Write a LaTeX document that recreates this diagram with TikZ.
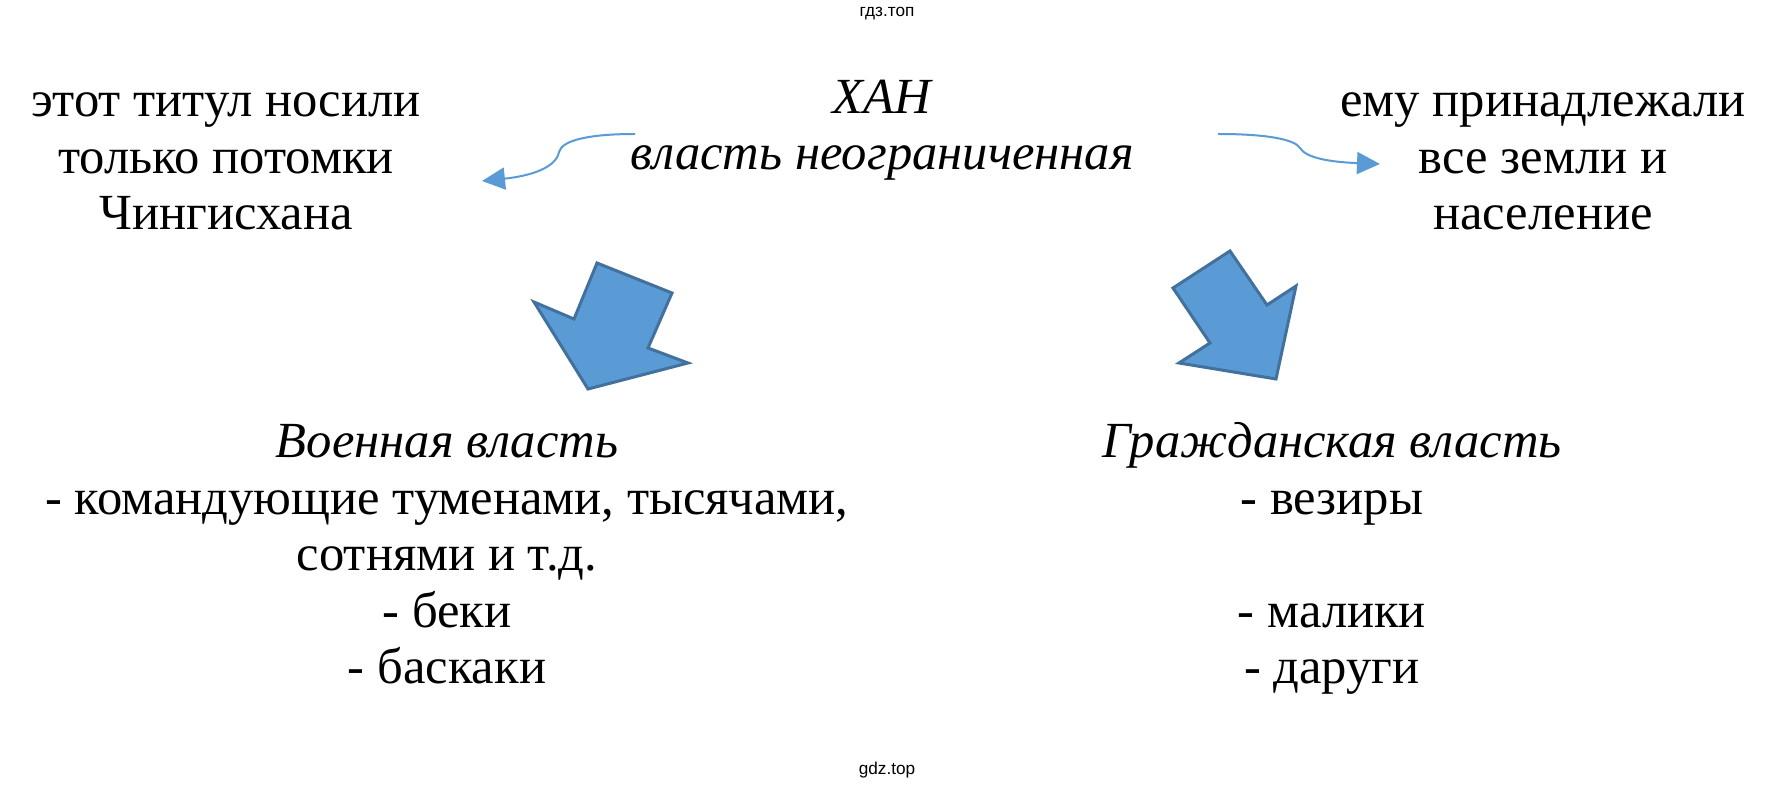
\documentclass[tikz,border=0pt]{standalone}
\usepackage{fontspec}
\setmainfont{Liberation Serif}
\newfontfamily\wmfont{Liberation Sans}
\usetikzlibrary{arrows.meta}
\definecolor{officeblue}{HTML}{5B9BD5}
\definecolor{officeedge}{HTML}{41719C}

\begin{document}
\begin{tikzpicture}[x=0.5pt,y=-0.5pt,
    txt/.style={align=center,anchor=base,font=\fontsize{25.3}{28.3}\selectfont},
    ital/.style={txt,font=\fontsize{25.3}{28.3}\selectfont\itshape},
    wmark/.style={font=\wmfont\fontsize{8.6}{10}\selectfont},
    curvearrow/.style={officeblue,line width=1pt,-{Triangle[length=11.5pt,width=11pt]}},
    bigarrow/.style={fill=officeblue,draw=officeedge,line width=1.5pt}]
        \fill[white] (0,0) rectangle (1774,790);
        \useasboundingbox (0,0) rectangle (1774,790);
        \node[wmark] (wmtop) at (887,14) {гдз.топ};
        \node[wmark] (wmbot) at (887,770) {gdz.top};
        % base anchor sits on the last line of each node
        \node[ital] (khan) at (882,170) {ХАН\\власть неограниченная};
        \node[txt] (titul) at (226,230) {этот титул носили\\только потомки\\Чингисхана};
        \node[txt] (zemli) at (1543,230) {ему принадлежали\\все земли и\\население};
        \node[txt] (voen) at (447,684) {\textit{Военная власть}\\- командующие туменами, тысячами,\\сотнями и т.д.\\- беки\\- баскаки};
        \node[txt] (grazhd) at (1332,684) {\textit{Гражданская власть}\\- везиры\\[28.3pt]- малики\\- даруги};
        % Now the curved arrows from the title to both sides
        \coordinate (kl1) at (635,134); \coordinate (kl2) at (482,181);
        \coordinate (kr1) at (1218,134); \coordinate (kr2) at (1380,164);
        \draw[curvearrow] (kl1) .. controls (590,134) and (562,140) .. (559,152) .. controls (556,168) and (530,176) .. (kl2);
        \draw[curvearrow] (kr1) .. controls (1270,134) and (1295,140) .. (1300,148) .. controls (1306,158) and (1330,162) .. (kr2);
        % Now the big block arrows
        \draw[bigarrow] (597,263) -- (672,293) -- (648,348) -- (688,363) -- (588,389) -- (534,302) -- (574,319) -- cycle;
        \draw[bigarrow] (1230,251) -- (1267,305) -- (1296,286) -- (1276,379) -- (1179,363) -- (1210,343) -- (1173,288) -- cycle;
    \end{tikzpicture}
\end{document}
